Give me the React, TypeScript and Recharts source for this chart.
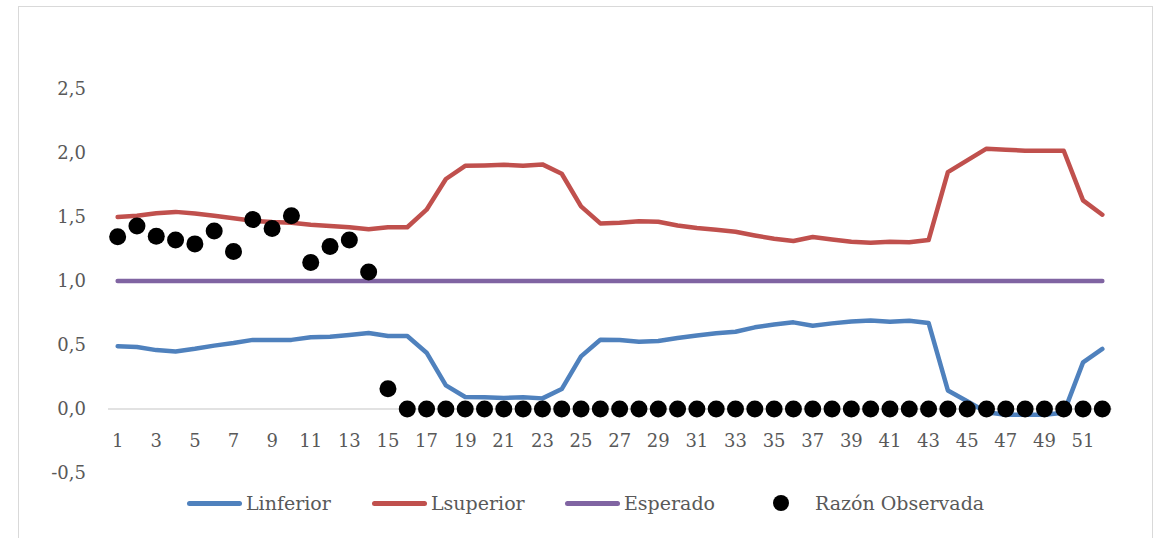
import { Line, LineChart, ReferenceLine, XAxis, YAxis } from "recharts";

// semanas epidemiológicas
const weeks = [
  1, 2, 3, 4, 5, 6, 7, 8, 9, 10, 11, 12, 13, 14, 15, 16, 17, 18, 19, 20, 21, 22, 23, 24, 25, 26,
  27, 28, 29, 30, 31, 32, 33, 34, 35, 36, 37, 38, 39, 40, 41, 42, 43, 44, 45, 46, 47, 48, 49, 50,
  51, 52,
];

const linferior = [
  0.49, 0.485, 0.46, 0.45, 0.47, 0.495, 0.515, 0.54, 0.54, 0.54, 0.56, 0.565, 0.578, 0.594, 0.571,
  0.57, 0.44, 0.185, 0.094, 0.091, 0.086, 0.091, 0.083, 0.156, 0.411, 0.541, 0.539, 0.526, 0.531,
  0.555, 0.575, 0.591, 0.604, 0.638, 0.66, 0.677, 0.651, 0.669, 0.684, 0.692, 0.682, 0.69, 0.672,
  0.145, 0.06, -0.025, -0.045, -0.045, -0.045, -0.03, 0.364, 0.469,
];

const lsuperior = [
  1.5, 1.51, 1.53, 1.54, 1.527, 1.51, 1.49, 1.47, 1.46, 1.455, 1.44, 1.43, 1.42, 1.405, 1.42, 1.42,
  1.557, 1.797, 1.9, 1.903, 1.909, 1.9, 1.911, 1.838, 1.583, 1.45, 1.455, 1.466, 1.463, 1.434,
  1.414, 1.4, 1.385, 1.356, 1.33, 1.312, 1.344, 1.325, 1.307, 1.299, 1.307, 1.302, 1.32, 1.851,
  1.942, 2.034, 2.026, 2.018, 2.018, 2.018, 1.63, 1.518,
];

const esperado = [
  1, 1, 1, 1, 1, 1, 1, 1, 1, 1, 1, 1, 1, 1, 1, 1, 1, 1, 1, 1, 1, 1, 1, 1, 1, 1, 1, 1, 1, 1, 1, 1,
  1, 1, 1, 1, 1, 1, 1, 1, 1, 1, 1, 1, 1, 1, 1, 1, 1, 1, 1, 1,
];

const observada = [
  1.345, 1.43, 1.35, 1.32, 1.29, 1.39, 1.23, 1.48, 1.41, 1.51, 1.145, 1.27, 1.32, 1.07, 0.158, 0, 0,
  0, 0, 0, 0, 0, 0, 0, 0, 0, 0, 0, 0, 0, 0, 0, 0, 0, 0, 0, 0, 0, 0, 0, 0, 0, 0, 0, 0, 0, 0, 0, 0, 0,
  0, 0,
];

const xTicks = [1, 3, 5, 7, 9, 11, 13, 15, 17, 19, 21, 23, 25, 27, 29, 31, 33, 35, 37, 39, 41, 43, 45, 47, 49, 51];
const yTicks = [-0.5, 0, 0.5, 1, 1.5, 2, 2.5];

const data = weeks.map((w, i) => ({
  week: w,
  linferior: linferior[i],
  lsuperior: lsuperior[i],
  esperado: esperado[i],
  observada: observada[i],
}));

const FONT = "'DejaVu Serif', serif";
const TEXT = "#595959";

const XTick = ({ x, y, payload }: any) => (
  <text
    x={x}
    y={y - 33}
    textAnchor="middle"
    dominantBaseline="central"
    fill={TEXT}
    fontSize={18}
    fontFamily={FONT}
  >
    {payload.value}
  </text>
);

const legendItems = [
  { name: "Linferior", color: "#4F81BD", left: 187, kind: "line" },
  { name: "Lsuperior", color: "#C0504D", left: 372, kind: "line" },
  { name: "Esperado", color: "#8064A2", left: 565, kind: "line" },
  { name: "Razón Observada", color: "#000000", left: 773, kind: "dot" },
];

const App = () => {
  return (
    <div
      style={{
        position: "absolute",
        left: 0,
        top: 0,
        width: 1153,
        height: 538,
        overflow: "hidden",
        background: "#fff",
        fontFamily: FONT,
      }}
    >
      <div
        style={{
          position: "absolute",
          left: 18,
          top: 6,
          width: 1133,
          height: 600,
          border: "1px solid #d9d9d9",
        }}
      />
      <LineChart
        width={1153}
        height={538}
        data={data}
        margin={{ top: 89, right: 41, bottom: 35, left: 0 }}
        style={{ position: "absolute", left: 0, top: 0 }}
      >
        <XAxis
          dataKey="week"
          type="number"
          domain={[0.5, 52.5]}
          ticks={xTicks}
          interval={0}
          axisLine={false}
          tickLine={false}
          tickSize={0}
          tickMargin={0}
          height={30}
          tick={<XTick />}
        />
        <YAxis
          type="number"
          domain={[-0.5, 2.5]}
          ticks={yTicks}
          width={108}
          axisLine={false}
          tickLine={false}
          tickSize={0}
          tickMargin={22}
          tick={{ fill: TEXT, fontSize: 18, fontFamily: FONT }}
          tickFormatter={(v: number) => v.toFixed(1).replace(".", ",")}
        />
        <ReferenceLine y={0} stroke="#d9d9d9" strokeWidth={1.5} />
        <Line
          dataKey="linferior"
          name="Linferior"
          stroke="#4F81BD"
          strokeWidth={4.5}
          strokeLinecap="round"
          strokeLinejoin="round"
          dot={false}
          isAnimationActive={false}
        />
        <Line
          dataKey="lsuperior"
          name="Lsuperior"
          stroke="#C0504D"
          strokeWidth={4.5}
          strokeLinecap="round"
          strokeLinejoin="round"
          dot={false}
          isAnimationActive={false}
        />
        <Line
          dataKey="esperado"
          name="Esperado"
          stroke="#8064A2"
          strokeWidth={4.5}
          strokeLinecap="round"
          dot={false}
          isAnimationActive={false}
        />
        <Line
          dataKey="observada"
          name="Razón Observada"
          stroke="none"
          dot={{ r: 8.5, fill: "#000", stroke: "none" }}
          activeDot={false}
          isAnimationActive={false}
        />
      </LineChart>
      {legendItems.map((it) => (
        <div
          key={it.name}
          style={{
            position: "absolute",
            left: it.left,
            top: 491,
            height: 24,
            display: "flex",
            alignItems: "center",
            color: TEXT,
            fontSize: 19,
            whiteSpace: "nowrap",
          }}
        >
          {it.kind === "line" ? (
            <span
              style={{
                display: "inline-block",
                width: 55,
                height: 5,
                borderRadius: 3,
                background: it.color,
                marginRight: 4,
              }}
            />
          ) : (
            <span
              style={{
                display: "inline-block",
                width: 16,
                height: 16,
                borderRadius: 8,
                background: it.color,
                marginRight: 26,
              }}
            />
          )}
          <span>{it.name}</span>
        </div>
      ))}
    </div>
  );
};

export default App;
